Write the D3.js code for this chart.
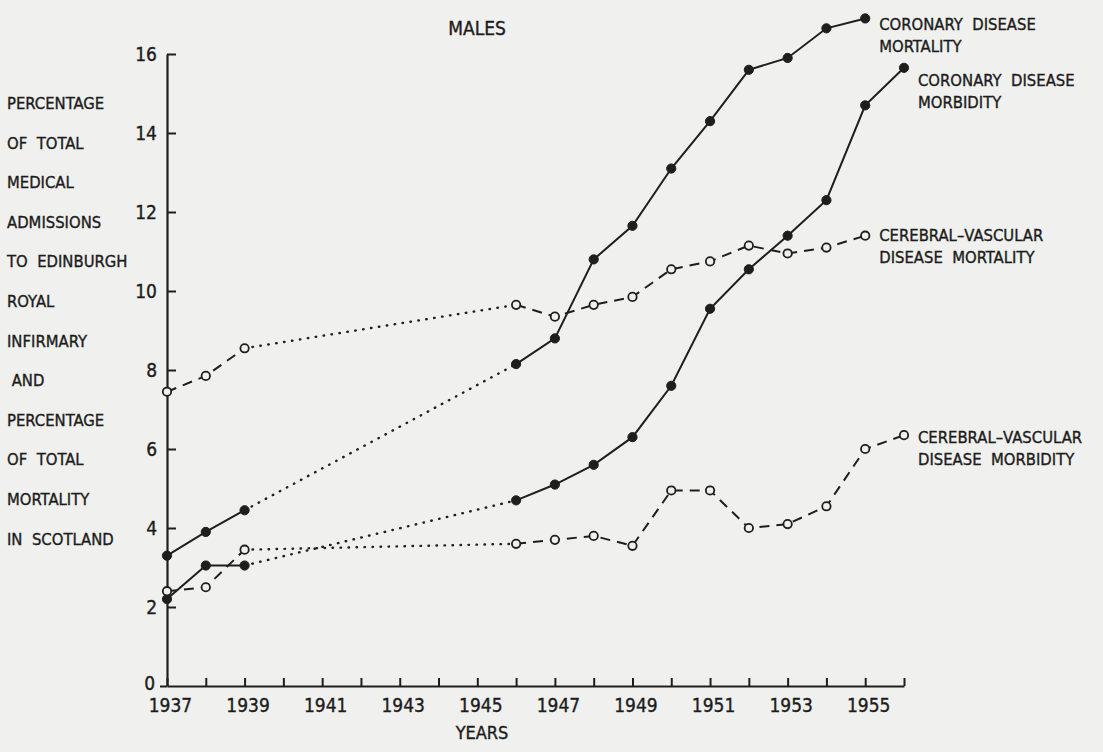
<!DOCTYPE html>
<html>
<head>
<meta charset="utf-8">
<script src="https://cdn.jsdelivr.net/npm/d3@7.9.0/dist/d3.min.js"></script>
<style>
  body { margin: 0; background: #f0f0ee; }
  svg { display: block; }
  text { font-family: "DejaVu Sans Condensed", "Liberation Sans Narrow", sans-serif; fill: #1c1c1c;
         stroke: #1c1c1c; stroke-width: 0.35px; }
</style>
</head>
<body>
<svg id="chart" width="1103" height="752"></svg>
<script>
// years: three pre-war points, then the post-war run
const earlyYears = [1937, 1938, 1939];
const lateYears = [1946, 1947, 1948, 1949, 1950, 1951, 1952, 1953, 1954, 1955, 1956];
const allYears = d3.range(1937, 1957);

// values (percent)
const coronaryMortality = [3.3, 3.9, 4.45, 8.15, 8.8, 10.8, 11.65, 13.1, 14.3, 15.6, 15.9, 16.65, 16.9];
const coronaryMorbidity = [2.2, 3.05, 3.05, 4.7, 5.1, 5.6, 6.3, 7.6, 9.55, 10.55, 11.4, 12.3, 14.7, 15.65];
const cerebralMortality = [7.45, 7.85, 8.55, 9.65, 9.35, 9.65, 9.85, 10.55, 10.75, 11.15, 10.95, 11.1, 11.4];
const cerebralMorbidity = [2.4, 2.5, 3.45, 3.6, 3.7, 3.8, 3.55, 4.95, 4.95, 4.0, 4.1, 4.55, 6.0, 6.35];

const yTicks = [0, 2, 4, 6, 8, 10, 12, 14, 16];
const yLabel = ['PERCENTAGE', 'OF  TOTAL', 'MEDICAL', 'ADMISSIONS', 'TO  EDINBURGH', 'ROYAL',
  'INFIRMARY', ' AND', 'PERCENTAGE', 'OF  TOTAL', 'MORTALITY', 'IN  SCOTLAND'];

const svg = d3.select('#chart');
const ink = '#1e1e1e';
const paper = '#f0f0ee';

const x = d3.scaleLinear().domain([1937, 1956]).range([167, 904]);
const y = d3.scaleLinear().domain([0, 16]).range([686, 54]);

// axes
const xAxis = d3.axisBottom(x)
  .tickValues(allYears)
  .tickFormat(d => (d % 2 ? d : ''))
  .tickSizeInner(-8).tickSizeOuter(0).tickPadding(13);
const yAxis = d3.axisLeft(y)
  .tickValues(yTicks)
  .tickSizeInner(-9).tickSizeOuter(0).tickPadding(10);

const gx = svg.append('g').attr('transform', `translate(0,${y(0)})`).call(xAxis);
const gy = svg.append('g').attr('transform', `translate(${x(1937)},0)`).call(yAxis);
[gx, gy].forEach(g => {
  g.select('.domain').attr('stroke', ink).attr('stroke-width', 2.2);
  g.selectAll('.tick line').attr('stroke', ink).attr('stroke-width', 2);
  g.selectAll('.tick text').attr('font-size', 19).attr('fill', ink)
    .style('font-family', '"DejaVu Sans Condensed", sans-serif');
});
// the zero tick pokes out to the left instead
gy.selectAll('.tick').filter(d => d === 0).select('line').attr('x2', -7);
gy.selectAll('.tick').filter(d => d === 0).select('text').attr('x', -12).attr('dy', '0.2em');
gx.selectAll('.tick text').attr('dx', 3);

// build a series into {early, late} point lists
function split(values) {
  const pts = values.map((v, i) => ({
    year: i < earlyYears.length ? earlyYears[i] : lateYears[i - earlyYears.length],
    value: v
  }));
  return { early: pts.slice(0, 3), late: pts.slice(3), all: pts };
}

const line = d3.line().x(d => x(d.year)).y(d => y(d.value));

const series = [
  { data: split(coronaryMortality), filled: true },
  { data: split(coronaryMorbidity), filled: true },
  { data: split(cerebralMortality), filled: false },
  { data: split(cerebralMorbidity), filled: false }
];

series.forEach(s => {
  const dash = s.filled ? null : '10,7';
  // pre-war and post-war runs
  [s.data.early, s.data.late].forEach(run => {
    svg.append('path')
      .attr('d', line(run))
      .attr('fill', 'none')
      .attr('stroke', ink)
      .attr('stroke-width', 2)
      .attr('stroke-dasharray', dash);
  });
  // dotted bridge over the war years
  svg.append('path')
    .attr('d', line([s.data.early[2], s.data.late[0]]))
    .attr('fill', 'none')
    .attr('stroke', ink)
    .attr('stroke-width', 2.4)
    .attr('stroke-linecap', 'round')
    .attr('stroke-dasharray', '0.5,7.5');
  // markers
  svg.append('g').selectAll('circle')
    .data(s.data.all)
    .join('circle')
    .attr('cx', d => x(d.year))
    .attr('cy', d => y(d.value))
    .attr('r', s.filled ? 4.6 : 4.2)
    .attr('fill', s.filled ? ink : paper)
    .attr('stroke', ink)
    .attr('stroke-width', s.filled ? 1 : 1.8);
});

// series labels, set just past each series' last point
const labels = [
  { lines: ['CORONARY  DISEASE', 'MORTALITY'], year: 1955, y: 30 },
  { lines: ['CORONARY  DISEASE', 'MORBIDITY'], year: 1956, y: 86 },
  { lines: ['CEREBRAL\u2013VASCULAR', 'DISEASE  MORTALITY'], year: 1955, y: 241 },
  { lines: ['CEREBRAL\u2013VASCULAR', 'DISEASE  MORBIDITY'], year: 1956, y: 443 }
];
labels.forEach(l => {
  const lx = x(l.year) + 14;
  const t = svg.append('text').attr('x', lx).attr('y', l.y).attr('font-size', 16.5)
    .style('white-space', 'pre');
  l.lines.forEach((s, i) => {
    t.append('tspan').attr('x', lx).attr('dy', i ? 22 : 0).text(s);
  });
});

// y axis title, one word group per line
svg.append('g').selectAll('text')
  .data(yLabel)
  .join('text')
  .attr('x', 7)
  .attr('y', (d, i) => 109 + i * 39.6)
  .attr('font-size', 16.5)
  .style('white-space', 'pre')
  .text(d => d);

svg.append('text').attr('x', 477).attr('y', 35).attr('text-anchor', 'middle')
  .attr('font-size', 19).text('MALES');
svg.append('text').attr('x', 482).attr('y', 739).attr('text-anchor', 'middle')
  .attr('font-size', 18).text('YEARS');
</script>
</body>
</html>
